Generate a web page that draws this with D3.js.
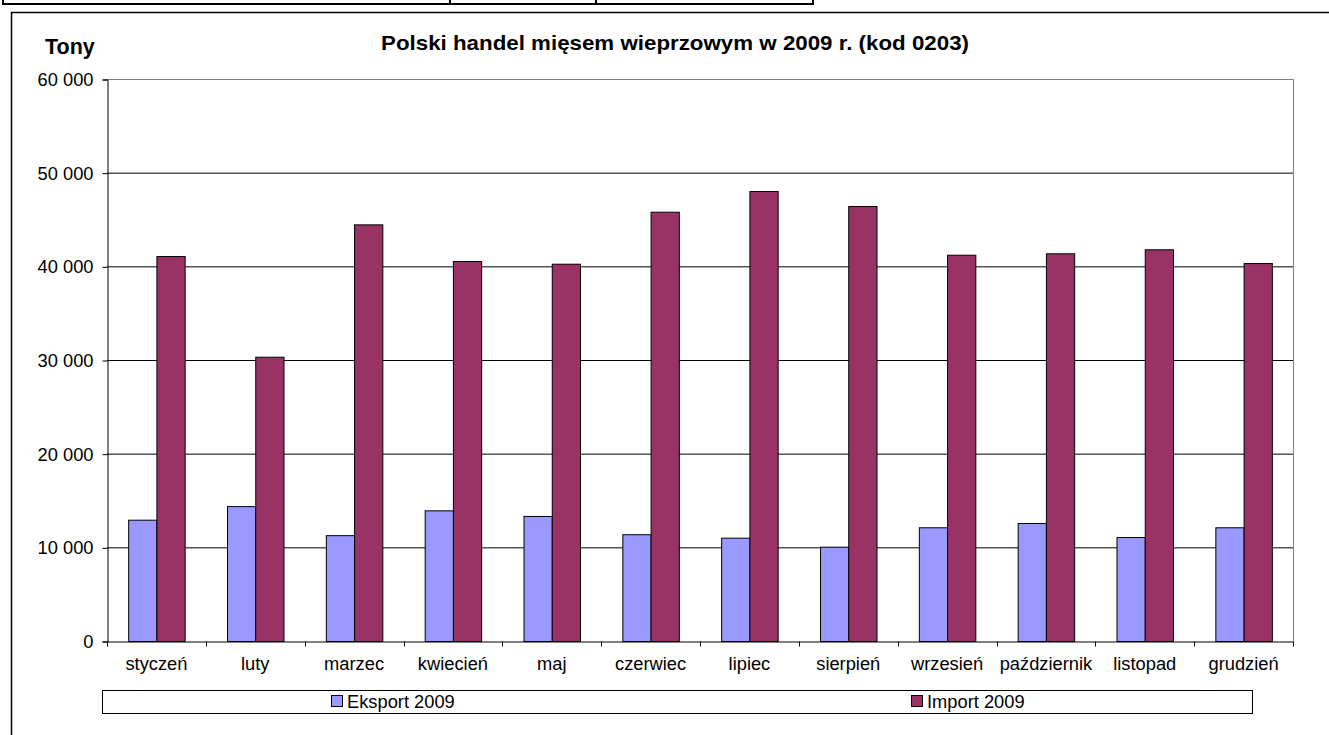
<!DOCTYPE html>
<html>
<head>
<meta charset="utf-8">
<script src="https://cdn.jsdelivr.net/npm/d3@7"></script>
<style>
  html, body { margin: 0; padding: 0; background: #fff; }
  svg { display: block; font-family: Arial, "Liberation Sans", sans-serif; }
</style>
</head>
<body>
<script>
// dane
const months = ['styczeń', 'luty', 'marzec', 'kwiecień', 'maj', 'czerwiec', 'lipiec', 'sierpień', 'wrzesień', 'październik', 'listopad', 'grudzień']
const eksport = [12950, 14400, 11300, 13950, 13350, 11400, 11030, 10070, 12140, 12600, 11100, 12140]
const importVals = [41100, 30350, 44480, 40570, 40280, 45830, 48040, 46440, 41240, 41390, 41820, 40350]
const seriesNames = ['Eksport 2009', 'Import 2009']
const yTicks = [0, 10000, 20000, 30000, 40000, 50000, 60000]

const width = 1329
const height = 735
const plot = { left: 107, top: 79, right: 1293, bottom: 641 }
const colors = ['#9999FF', '#993366']
const fontSize = 18.3

const pl = d3.formatLocale({ decimal: ',', thousands: ' ', grouping: [3], currency: ['', ''] })
const fmt = pl.format(',d')

const svg = d3.select('body').append('svg')
  .attr('width', width)
  .attr('height', height)

// pasek tabeli u góry
const strip = svg.append('g').attr('stroke', '#000')
strip.append('line').attr('x1', 2).attr('x2', 814).attr('y1', 4).attr('y2', 4).attr('stroke-width', 2)
;[3, 450, 596, 813].forEach((x) => {
  strip.append('line').attr('x1', x).attr('x2', x).attr('y1', 0).attr('y2', 5).attr('stroke-width', 2)
})

// ramka wykresu
svg.append('path')
  .attr('d', `M11.5,${height} V12.5 H${width}`)
  .attr('fill', 'none')
  .attr('stroke', '#000')
  .attr('stroke-width', 1.5)

const x0 = d3.scaleBand().domain(months).range([plot.left, plot.right]).padding(0)
const x1 = d3.scaleBand().domain([0, 1]).range([0, x0.bandwidth()]).paddingInner(0).paddingOuter(0.75)
const y = d3.scaleLinear().domain([0, 60000]).range([plot.bottom, plot.top])

// linie siatki
svg.append('g')
  .selectAll('line')
  .data(yTicks.filter((d) => d > 0 && d < 60000))
  .join('line')
  .attr('x1', plot.left).attr('x2', plot.right)
  .attr('y1', (d) => y(d) + 0.5).attr('y2', (d) => y(d) + 0.5)
  .attr('stroke', '#000')

// obramowanie obszaru wykresu (góra, prawa)
svg.append('path')
  .attr('d', `M${plot.left},${plot.top + 0.5} H${plot.right + 0.5} V${plot.bottom}`)
  .attr('fill', 'none')
  .attr('stroke', '#808080')

// słupki
const groups = svg.append('g')
  .selectAll('g')
  .data(months.map((m, i) => ({ m, vals: [eksport[i], importVals[i]] })))
  .join('g')
  .attr('transform', (d) => `translate(${x0(d.m)},0)`)

groups.selectAll('rect')
  .data((d) => d.vals.map((v, k) => ({ v, k })))
  .join('rect')
  .attr('x', (d) => x1(d.k) + 0.5)
  .attr('y', (d) => y(d.v) + 0.5)
  .attr('width', x1.bandwidth())
  .attr('height', (d) => y(0) - y(d.v))
  .attr('fill', (d) => colors[d.k])
  .attr('stroke', '#000')
  .attr('stroke-width', 1)

// oś Y
const yAxis = svg.append('g')
  .attr('transform', `translate(${plot.left + 0.5},0.5)`)
  .call(d3.axisLeft(y).tickValues(yTicks).tickSize(5).tickPadding(9).tickFormat(fmt))
yAxis.select('.domain').attr('stroke', '#000')
yAxis.selectAll('.tick line').attr('stroke', '#000')
yAxis.selectAll('text').attr('font-size', fontSize).attr('fill', '#000').attr('font-family', 'Arial, "Liberation Sans", sans-serif')

// oś X
const xAxis = svg.append('g')
  .attr('transform', `translate(0,${plot.bottom + 0.5})`)
  .call(d3.axisBottom(x0).tickSize(0).tickPadding(16))
xAxis.select('.domain').attr('stroke', '#000')
xAxis.selectAll('text').attr('font-size', fontSize).attr('fill', '#000').attr('font-family', 'Arial, "Liberation Sans", sans-serif')
xAxis.selectAll('.edge')
  .data(months.map((m) => x0(m)).concat([plot.right]))
  .join('line')
  .attr('x1', (d) => Math.round(d) + 0.5).attr('x2', (d) => Math.round(d) + 0.5)
  .attr('y1', 0).attr('y2', 5)
  .attr('stroke', '#000')

// tytuł
svg.append('text')
  .attr('x', 381).attr('y', 50)
  .attr('font-weight', 'bold')
  .attr('font-size', 21)
  .attr('textLength', 588)
  .attr('lengthAdjust', 'spacingAndGlyphs')
  .text('Polski handel mięsem wieprzowym w 2009 r. (kod 0203)')

svg.append('text')
  .attr('x', 45).attr('y', 54)
  .attr('font-weight', 'bold')
  .attr('font-size', 21.5)
  .text('Tony')

// legenda
const legend = svg.append('g')
legend.append('rect')
  .attr('x', 102.5).attr('y', 690.5).attr('width', 1150).attr('height', 23)
  .attr('fill', '#fff').attr('stroke', '#000')
const legendX = [331, 911]
seriesNames.forEach((name, i) => {
  legend.append('rect')
    .attr('x', legendX[i] + 0.5).attr('y', 695.5).attr('width', 11).attr('height', 11)
    .attr('fill', colors[i]).attr('stroke', '#000')
  legend.append('text')
    .attr('x', legendX[i] + 16).attr('y', 708)
    .attr('font-size', fontSize)
    .text(name)
})
</script>
</body>
</html>
